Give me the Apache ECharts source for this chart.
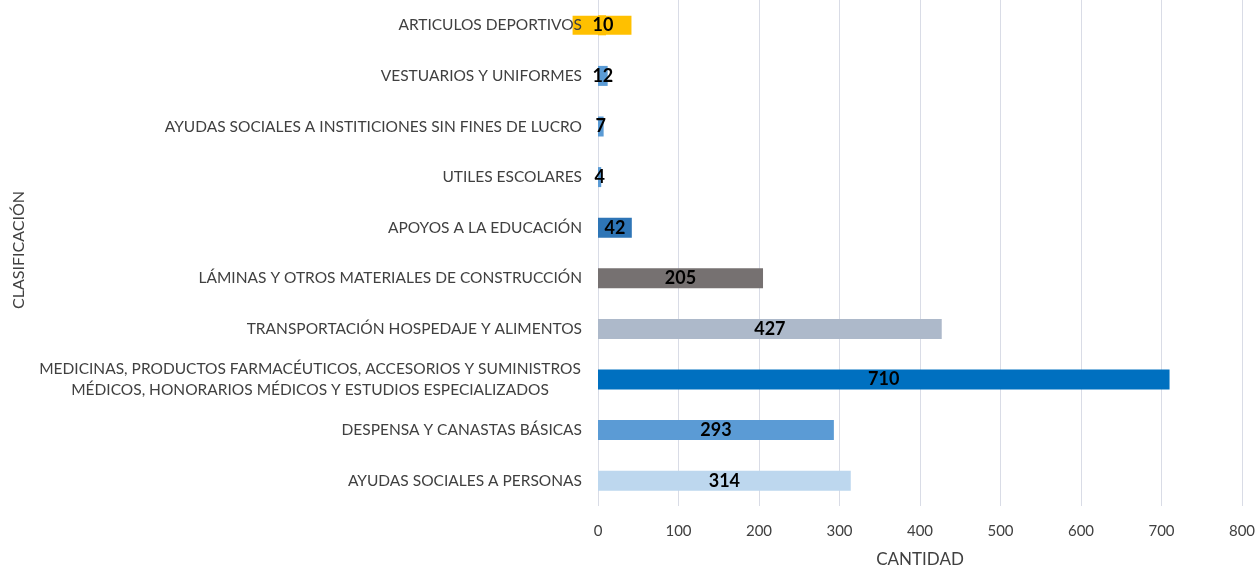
<!DOCTYPE html>
<html>
<head>
<meta charset="utf-8">
<script src="https://cdn.jsdelivr.net/npm/echarts@6/dist/echarts.min.js"></script>
<style>
  html, body { margin: 0; padding: 0; background: #fff; }
  #main { width: 1260px; height: 566px; }
</style>
</head>
<body>
<div id="main"></div>
<script>
// categories from bottom to top
var categorias = [
  'AYUDAS SOCIALES A PERSONAS',
  'DESPENSA Y CANASTAS BÁSICAS',
  'MEDICINAS, PRODUCTOS FARMACÉUTICOS, ACCESORIOS Y SUMINISTROS\nMÉDICOS, HONORARIOS MÉDICOS Y ESTUDIOS ESPECIALIZADOS',
  'TRANSPORTACIÓN HOSPEDAJE Y ALIMENTOS',
  'LÁMINAS Y OTROS MATERIALES DE CONSTRUCCIÓN',
  'APOYOS A LA EDUCACIÓN',
  'UTILES ESCOLARES',
  'AYUDAS SOCIALES A INSTITICIONES SIN FINES DE LUCRO',
  'VESTUARIOS Y UNIFORMES',
  'ARTICULOS DEPORTIVOS'
];
var cantidades = [314, 293, 710, 427, 205, 42, 4, 7, 12, 10];
var colores = ['#BDD7EE', '#5B9BD5', '#0070C0', '#ADB9CA', '#767171', '#2E75B6', '#5B9BD5', '#5B9BD5', '#5B9BD5', '#FFC000'];

var chart = echarts.init(document.getElementById('main'));

var datos = cantidades.map(function (v, i) {
  var d = { value: v, itemStyle: { color: colores[i] } };
  if (i === 9) {
    // etiqueta resaltada en amarillo
    d.label = { backgroundColor: '#FFC000', padding: [1, 18, 0, 20] };
  }
  return d;
});

chart.setOption({
  animation: false,
  grid: { left: 598, right: 18, top: 0, bottom: 60, outerBoundsMode: 'none' },
  xAxis: {
    type: 'value',
    min: 0,
    max: 800,
    interval: 100,
    name: 'CANTIDAD',
    nameLocation: 'middle',
    nameGap: 45,
    nameTextStyle: { fontFamily: 'Lato', fontSize: 17, color: '#404040' },
    axisLine: { show: false },
    axisTick: { show: false },
    axisLabel: { fontFamily: 'Lato', fontSize: 15, color: '#404040', margin: 18 },
    splitLine: { lineStyle: { color: '#D9DCE6', width: 1 } }
  },
  yAxis: {
    type: 'category',
    z: 5,
    data: categorias,
    name: 'CLASIFICACIÓN',
    nameLocation: 'middle',
    nameGap: 570,
    nameRotate: 90,
    nameTextStyle: { fontFamily: 'Lato', fontSize: 16, color: '#404040', padding: [0, 0, 0, 6] },
    axisLine: { show: false },
    axisTick: { show: false },
    axisLabel: {
      fontFamily: 'Lato',
      fontSize: 15.5,
      color: '#404040',
      margin: 16,
      lineHeight: 21,
      formatter: function (val) {
        if (val.indexOf('\n') >= 0) {
          return val.split('\n').map(function (l) { return '{m|' + l + '}'; }).join('\n');
        }
        return val;
      },
      rich: {
        m: { width: 544, align: 'center', fontFamily: 'Lato', fontSize: 15.5, color: '#404040', lineHeight: 21 }
      }
    }
  },
  series: [{
    type: 'bar',
    data: datos,
    barWidth: 20,
    label: {
      show: true,
      position: 'inside',
      color: '#000',
      fontWeight: 'bold',
      fontFamily: 'Lato',
      fontSize: 18
    }
  }]
});
</script>
</body>
</html>
